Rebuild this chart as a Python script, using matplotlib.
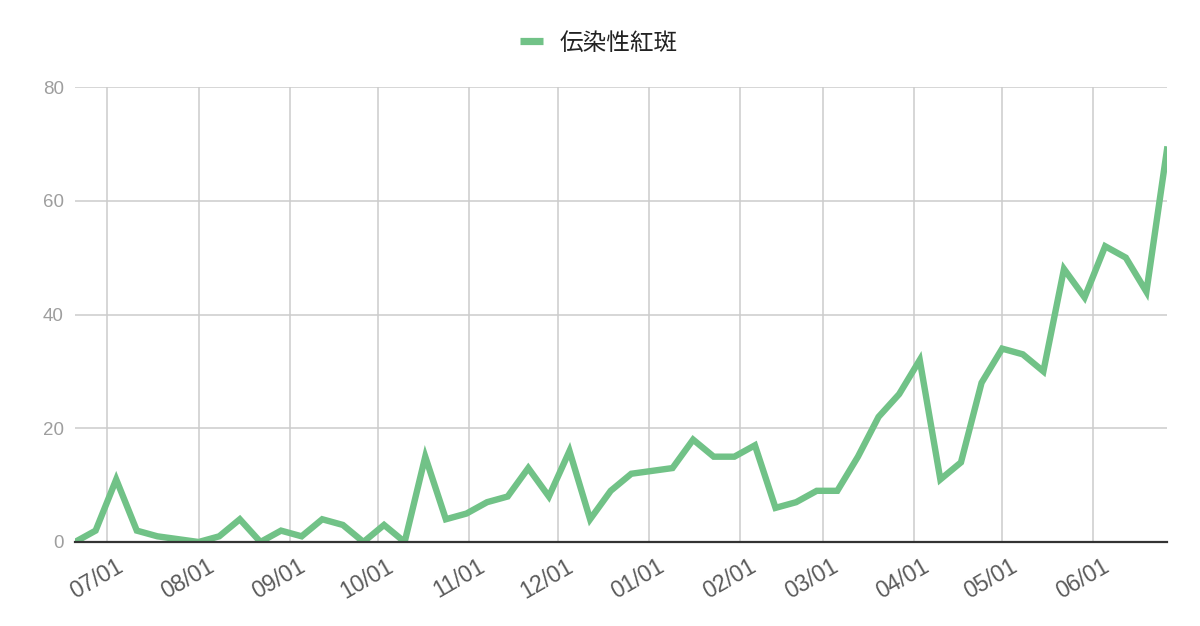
import numpy as np
import matplotlib
matplotlib.use("Agg")
import matplotlib.pyplot as plt
import matplotlib.dates as mdates
import matplotlib.transforms as mtransforms
from matplotlib.lines import Line2D

plt.rcParams['font.family'] = ['Liberation Sans', 'Noto Sans CJK JP', 'DejaVu Sans']

# weekly reports, first week ~2024-06-20
start_date = np.datetime64('2024-06-20')
n_weeks = 54
dates = start_date + np.arange(n_weeks) * np.timedelta64(7, 'D')

cases = [0, 2, 11, 2, 1, 0.5, 0, 1, 4, 0,
         2, 1, 4, 3, 0, 3, 0, 15, 4, 5,
         7, 8, 13, 8, 16, 4, 9, 12, 12.5, 13,
         18, 15, 15, 17, 6, 7, 9, 9, 15, 22,
         26, 32, 11, 14, 28, 34, 33, 30, 48, 43,
         52, 50, 44, 69]

series_name = '伝染性紅斑'
y_ticks = [0, 20, 40, 60, 80]

line_color = '#71c287'

fig = plt.figure(figsize=(12, 6.26), dpi=100)
ax = fig.add_axes([75/1200, 1 - 542/626, (1167 - 75)/1200, (542 - 87)/626])

ax.plot(dates.astype('datetime64[D]').astype(object), cases, color=line_color,
        lw=4.6, solid_joinstyle='miter', zorder=3)

ax.set_xlim(dates[0].astype(object), dates[-1].astype(object))
ax.set_ylim(0, 80)
ax.set_yticks(y_ticks)

ax.xaxis.set_major_locator(mdates.MonthLocator())
ax.xaxis.set_major_formatter(mdates.DateFormatter('%m/%d'))

ax.grid(True, color='#cccccc', lw=1.1)
ax.set_axisbelow(True)
for s in ['top', 'right', 'left']:
    ax.spines[s].set_visible(False)
ax.spines['bottom'].set_color('#333333')
ax.spines['bottom'].set_linewidth(1.6)
ax.spines['bottom'].set_zorder(4)

ax.tick_params(axis='both', length=0)
ax.tick_params(axis='y', labelsize=13.5, labelcolor='#9e9e9e', pad=8)
ax.tick_params(axis='x', labelsize=16.5, labelcolor='#5a5a5a', pad=9)

offset = mtransforms.ScaledTranslation(8/100, 0, fig.dpi_scale_trans)
for lab in ax.get_xticklabels():
    lab.set_rotation(30)
    lab.set_ha('right')
    lab.set_va('top')
    lab.set_rotation_mode('anchor')
    lab.set_transform(lab.get_transform() + offset)

handle = Line2D([], [], color=line_color, lw=5.2, solid_capstyle='butt')
fig.legend([handle], [series_name], loc='center', bbox_to_anchor=(0.499, 1 - 43/626),
           frameon=False, prop={'family': ['Noto Sans CJK JP'], 'size': 17},
           handlelength=1.0, handletextpad=0.7, labelcolor='#222222')

fig.savefig('out.png', dpi=100)
